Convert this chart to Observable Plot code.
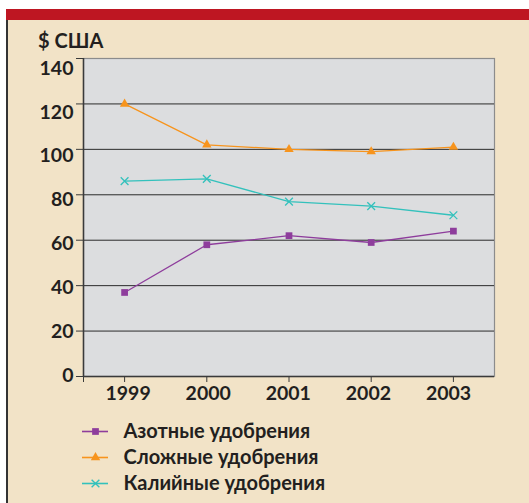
<!DOCTYPE html>
<html><head><meta charset="utf-8">
<script src="https://cdn.jsdelivr.net/npm/d3@7"></script>
<script src="https://cdn.jsdelivr.net/npm/@observablehq/plot@0.6"></script>
<style>
html,body{margin:0;padding:0;background:#fff;width:529px;height:503px;overflow:hidden;}
#red{position:absolute;left:6px;top:9px;width:523px;height:11px;background:#be1622;}
#panel{position:absolute;left:6px;top:20px;width:523px;height:483px;background:#f2e3c7;border-left:2px solid #333;box-sizing:border-box;}
#title{position:absolute;left:38px;top:28px;font-family:Lato,sans-serif;font-weight:bold;font-size:20px;color:#231f20;}
#chart{position:absolute;left:7px;top:50px;}
#legend{position:absolute;left:0px;top:416px;}
</style></head>
<body>
<div id="red"></div><div id="panel"></div>
<div id="title">$ США</div>
<div id="chart"></div>
<div id="legend"></div>
<script>
const years = [1999, 2000, 2001, 2002, 2003];
const seriesNames = ["Азотные удобрения", "Сложные удобрения", "Калийные удобрения"];
const azot = [37, 58, 62, 59, 64];
const slozh = [120, 102, 100, 99, 101];
const kali = [86, 87, 77, 75, 71];
const yTicks = [0, 20, 40, 60, 80, 100, 120, 140];
const colors = ["#8e3d9c", "#f7941d", "#33c1bc"];
const symbols = ["square", "triangle", "times"];

const valuesBySeries = [azot, slozh, kali];
const rows = [];
seriesNames.forEach((s, i) => years.forEach((y, j) => rows.push({series: s, year: y, value: valuesBySeries[i][j]})));

const font = "Lato, sans-serif";
const ink = "#231f20";
const colorScale = {domain: seriesNames, range: colors};
const symbolScale = {domain: seriesNames, range: symbols};

// label offsets reproduce the slightly compressed label spacing of the original
const yLabelDy = yTicks.map(t => t / 140 * 11 - 1);
const xLabelDx = years.map((y, i) => 3.5 - i * 2.1);

const chart = Plot.plot({
  width: 522, height: 360,
  marginLeft: 76, marginRight: 35, marginTop: 8, marginBottom: 34,
  style: {background: "transparent", fontFamily: font, fontWeight: "bold", fontSize: "19px", color: ink},
  x: {domain: [1998.5, 2003.5], label: null},
  y: {domain: [0, 140], label: null},
  color: colorScale,
  symbol: symbolScale,
  marks: [
    Plot.frame({fill: "#dcdddf", stroke: "#8c8c8c", strokeWidth: 1.2}),
    Plot.gridY(yTicks.filter(t => t > 0 && t < 140), {stroke: "#2b2b2b", strokeOpacity: 1, strokeWidth: 1}),
    Plot.ruleY([0], {stroke: "#3a3a3a", strokeWidth: 1.5}),
    Plot.ruleX([1998.5], {stroke: "#3a3a3a", strokeWidth: 1.5}),
    Plot.axisY(yTicks, {tickSize: 7, tickFormat: () => "", stroke: "#3a3a3a", label: null}),
    ...yTicks.map((t, i) => Plot.axisY([t], {tickSize: 7, tickPadding: 3, stroke: null, dy: yLabelDy[i], label: null, fill: ink, fontSize: 19.5, fontWeight: "bold"})),
    Plot.axisX([1998.5, ...years], {tickSize: 6, tickFormat: () => "", stroke: "#3a3a3a", label: null}),
    ...years.map((y, i) => Plot.axisX([y], {tickSize: 6, tickPadding: 4, stroke: null, dx: xLabelDx[i], tickFormat: d => String(d), label: null, fill: ink, fontSize: 19.5, fontWeight: "bold"})),
    Plot.line(rows, {x: "year", y: "value", z: "series", stroke: "series", strokeWidth: 1.3}),
    Plot.dot(rows.filter(d => d.series === seriesNames[0]), {x: "year", y: "value", symbol: "series", fill: "series", r: 3.8, stroke: null}),
    Plot.dot(rows.filter(d => d.series === seriesNames[1]), {x: "year", y: "value", symbol: "series", fill: "series", r: 3.5, stroke: null}),
    Plot.dot(rows.filter(d => d.series === seriesNames[2]), {x: "year", y: "value", symbol: "series", stroke: "series", r: 3.6, strokeWidth: 1.3})
  ]
});
document.getElementById("chart").appendChild(chart);

const legendRows = seriesNames.map(s => ({series: s}));
const legend = Plot.plot({
  width: 529, height: 87,
  margin: 0,
  style: {background: "transparent", fontFamily: font, fontWeight: "bold", color: ink},
  x: {domain: [0, 1], range: [82, 108], axis: null},
  y: {domain: seriesNames, type: "point", range: [14, 67], padding: 0, axis: null},
  color: colorScale,
  symbol: symbolScale,
  marks: [
    Plot.ruleY(legendRows, {y: "series", x1: 0, x2: 1, stroke: "series", strokeWidth: 1.6}),
    Plot.dot(legendRows.slice(0, 1), {x: 0.5, y: "series", symbol: "series", fill: "series", r: 3.8, stroke: null}),
    Plot.dot(legendRows.slice(1, 2), {x: 0.5, y: "series", symbol: "series", fill: "series", r: 3.5, stroke: null}),
    Plot.dot(legendRows.slice(2), {x: 0.5, y: "series", symbol: "series", stroke: "series", r: 3.6, strokeWidth: 1.4}),
    Plot.text(legendRows, {x: 1, y: "series", text: "series", dx: 15, textAnchor: "start", fill: ink, fontSize: 20, fontWeight: "bold"})
  ]
});
document.getElementById("legend").appendChild(legend);
</script>
</body></html>
